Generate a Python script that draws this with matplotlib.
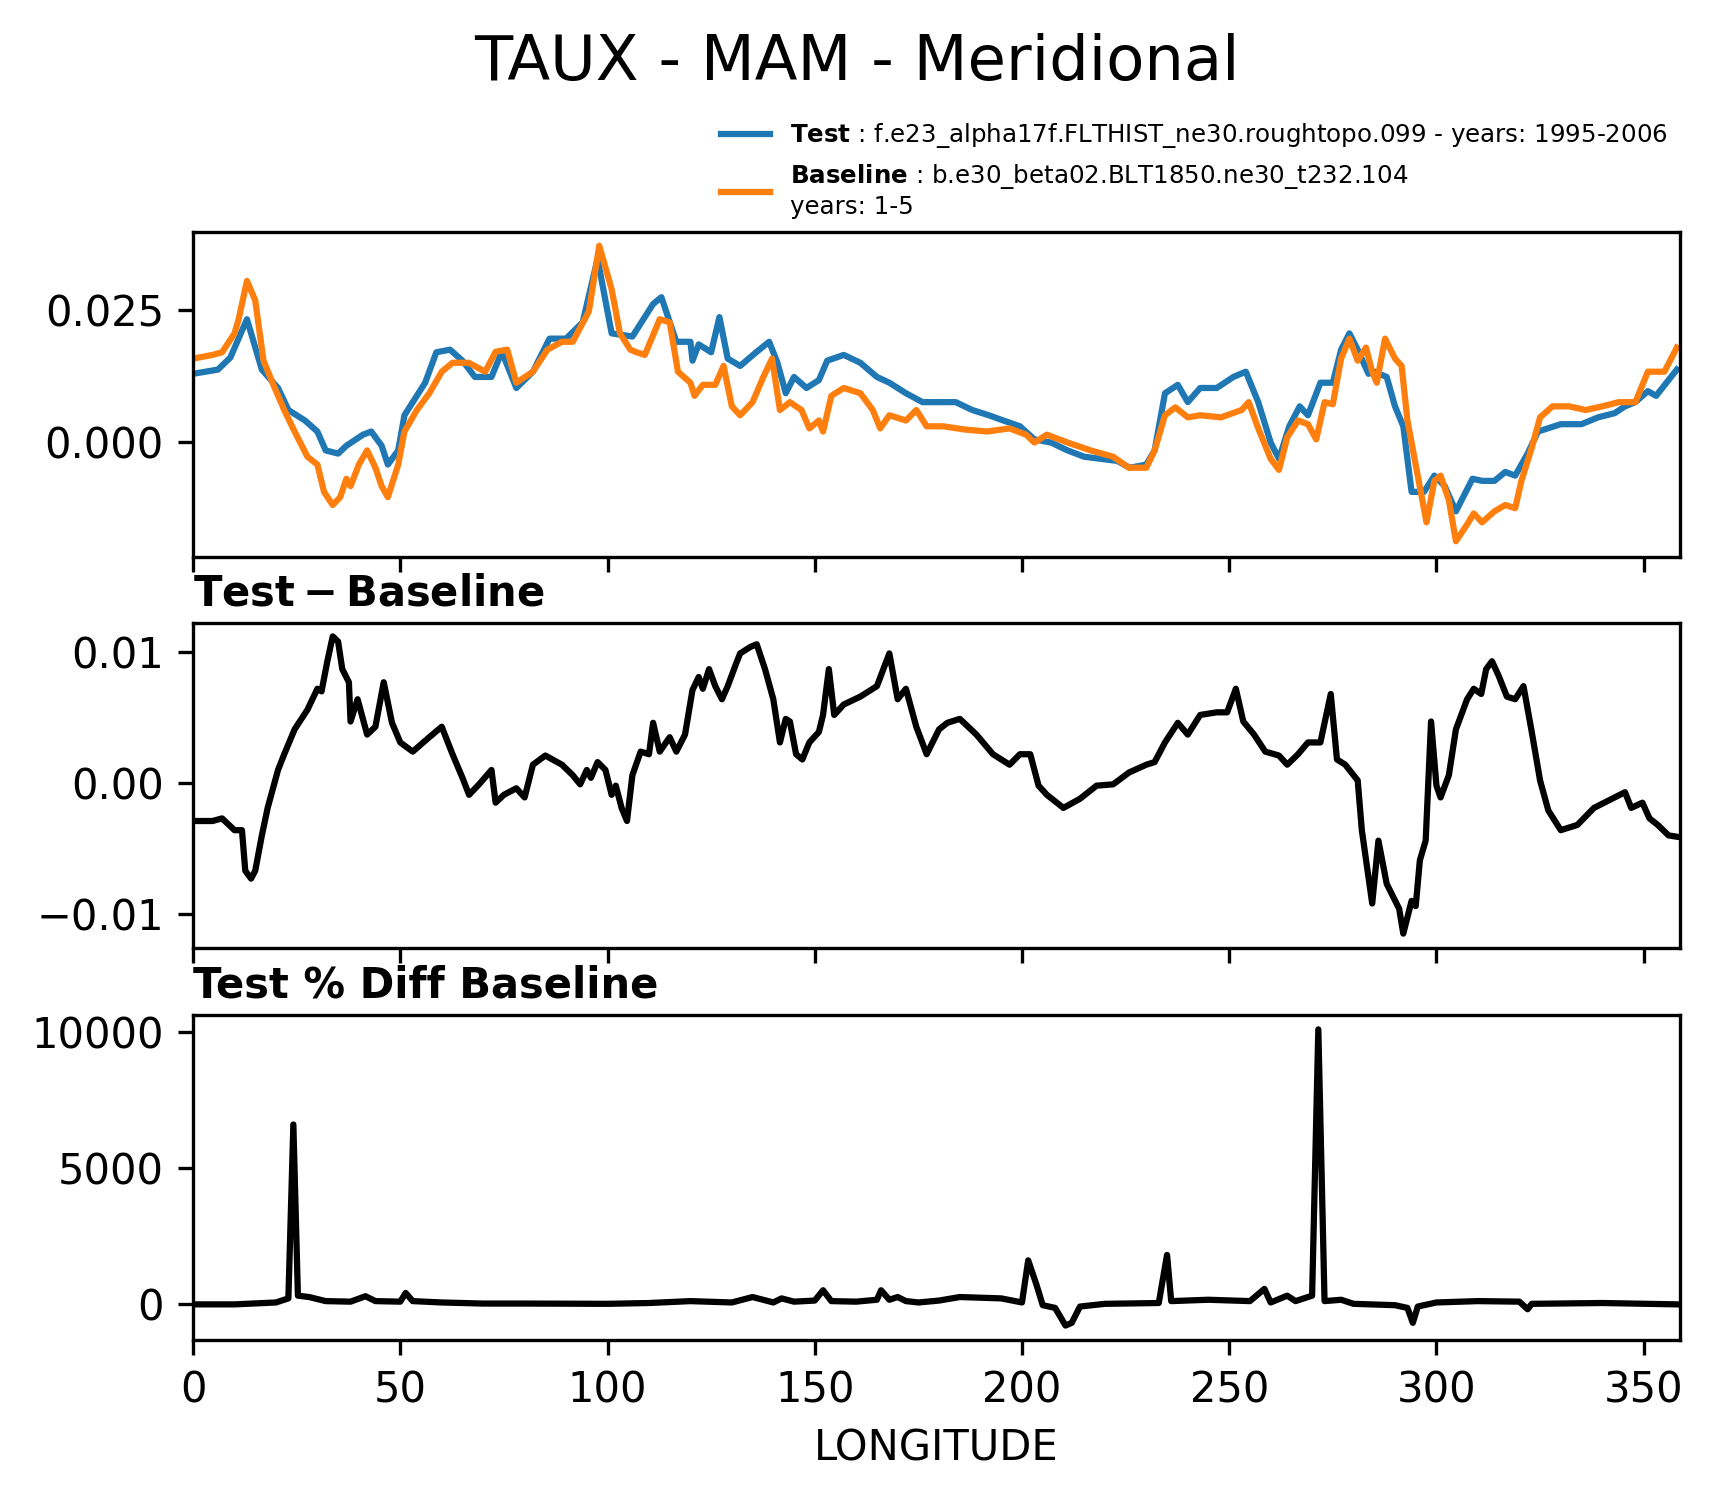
import numpy as np
import matplotlib
matplotlib.use("Agg")
import matplotlib.pyplot as plt

# Test (blue) zonal-ish profile
test_lon = [0, 6, 9, 13, 16.6, 20.5, 23, 27, 30, 32, 35, 37, 41, 43, 45.5, 47, 49.5, 51, 56, 58.7,
            62, 65, 68, 72, 74.5, 78, 82, 86, 90, 94, 97.6, 101, 106, 111, 113, 116.6, 120, 120.5,
            122, 125, 127, 129, 132, 136, 139, 141, 143, 145, 148, 151, 153, 157, 161, 165, 168,
            172, 176, 180, 184, 188, 192, 195.5, 199.5, 203, 207, 211, 215, 219, 223, 226, 230,
            232, 234.5, 237.6, 240, 243, 247, 251, 254, 257, 260, 262, 264.5, 267, 269, 272, 275,
            277, 279, 281, 283.6, 285, 288, 290, 292, 294, 297, 299.5, 302, 304.7, 308.7, 311,
            314, 316.6, 319, 322, 324.5, 330, 335, 339, 343, 345.5, 348, 351, 353, 358]
test_val = [0.0129, 0.0137, 0.016, 0.0233, 0.0137, 0.0102, 0.006, 0.004, 0.0019, -0.0017, -0.0023,
            -0.0008, 0.0013, 0.0019, -0.0008, -0.0044, -0.0017, 0.005, 0.0112, 0.017, 0.0175,
            0.0154, 0.0123, 0.0123, 0.0171, 0.0102, 0.0133, 0.0196, 0.0196, 0.0227, 0.0348,
            0.0206, 0.02, 0.0262, 0.0275, 0.019, 0.019, 0.0154, 0.0185, 0.017, 0.0237, 0.0158,
            0.0144, 0.0171, 0.019, 0.015, 0.0092, 0.0123, 0.0102, 0.0117, 0.0154, 0.0165, 0.015,
            0.0123, 0.0112, 0.0092, 0.0075, 0.0075, 0.0075, 0.006, 0.005, 0.004, 0.0029, 0.0004,
            -0.0002, -0.0017, -0.0029, -0.0033, -0.0037, -0.005, -0.0044, -0.0017, 0.0092, 0.0108,
            0.0075, 0.0102, 0.0102, 0.0123, 0.0133, 0.0075, -0.0002, -0.0033, 0.0029, 0.0067,
            0.005, 0.0112, 0.0112, 0.0175, 0.0206, 0.0175, 0.0129, 0.0133, 0.0123, 0.0067, 0.0029,
            -0.0096, -0.0096, -0.0065, -0.0085, -0.0133, -0.0071, -0.0075, -0.0075, -0.0058,
            -0.0065, -0.0023, 0.0019, 0.0033, 0.0033, 0.0046, 0.0054, 0.0067, 0.0075, 0.0096,
            0.0087, 0.0137]

# Baseline (orange)
base_lon = [0, 4.7, 7, 10, 11, 13, 15, 17, 19.7, 22, 24.5, 27.6, 30, 31.6, 33.7, 35.5, 37, 38, 40,
            42, 44, 45.5, 47, 49.5, 51, 54, 57, 60, 62.6, 66.5, 70.5, 73, 75.8, 78, 82, 85.5, 89,
            91.6, 95.5, 98, 101, 103, 105.5, 107, 109, 112.6, 115, 117, 120, 121, 123, 126, 128,
            130, 132, 135, 137.6, 139.7, 141.6, 144, 146.8, 148.7, 151, 152, 154, 157, 161, 164,
            165.8, 168, 172, 174.5, 177, 181, 186, 191.6, 197, 201, 203, 206, 211, 216.6, 222,
            225.8, 230, 232, 234.5, 237, 240, 243, 248, 253, 254.7, 257, 260, 262, 264, 266.6,
            269, 271, 273, 275, 277, 279, 281, 283, 284.5, 285.6, 287.6, 290, 291.6, 293, 295.5,
            297.6, 299.5, 301, 303, 304.7, 307.4, 309, 311, 314, 316.6, 319, 320.5, 323, 325,
            328, 332, 336, 340, 344, 348, 351, 355, 358]
base_val = [0.0158, 0.0165, 0.017, 0.0206, 0.0233, 0.0306, 0.0269, 0.0154, 0.0102, 0.006, 0.0019,
            -0.0029, -0.0044, -0.0096, -0.0121, -0.0106, -0.0071, -0.0085, -0.0044, -0.0017,
            -0.005, -0.0085, -0.0106, -0.0044, 0.0019, 0.006, 0.0092, 0.0133, 0.015, 0.015,
            0.0133, 0.0171, 0.0175, 0.0112, 0.0133, 0.0175, 0.019, 0.019, 0.0248, 0.0373, 0.029,
            0.0206, 0.0175, 0.017, 0.0165, 0.0233, 0.0227, 0.0133, 0.0112, 0.0087, 0.0108,
            0.0108, 0.0144, 0.0067, 0.005, 0.0075, 0.0123, 0.0158, 0.006, 0.0075, 0.006, 0.0025,
            0.004, 0.0019, 0.0087, 0.0102, 0.0092, 0.006, 0.0025, 0.005, 0.004, 0.006, 0.0029,
            0.0029, 0.0023, 0.0019, 0.0025, 0.0013, -0.0002, 0.0013, -0.0002, -0.0017, -0.0029,
            -0.005, -0.005, -0.0017, 0.005, 0.0065, 0.0046, 0.005, 0.0046, 0.006, 0.0075, 0.0025,
            -0.0033, -0.0054, 0.0008, 0.004, 0.0033, 0.0004, 0.0075, 0.0071, 0.0158, 0.0196,
            0.0154, 0.0179, 0.0133, 0.0112, 0.0196, 0.0158, 0.0144, 0.004, -0.0065, -0.0154,
            -0.0075, -0.0065, -0.0112, -0.019, -0.0158, -0.0137, -0.0154, -0.0133, -0.0121,
            -0.0127, -0.0075, -0.0012, 0.0046, 0.0067, 0.0067, 0.006, 0.0067, 0.0075, 0.0075,
            0.0133, 0.0133, 0.0179]

# Test - Baseline
diff_lon = [0, 4.7, 7, 10, 11.8, 12.6, 14, 15, 16.6, 18, 20.5, 22, 24.5, 27.6, 30, 31, 32.4, 33.7,
            35, 36, 37.6, 38, 39.7, 42, 44, 46, 48, 50, 53, 57, 60, 62.6, 65, 66.6, 69, 72, 73, 75,
            78, 80, 82, 85, 89, 91.6, 93.4, 95, 96, 97.6, 99.5, 101, 102, 103.4, 104.7, 106, 108,
            110, 111, 112.6, 115, 116.6, 118.7, 120.5, 122, 123, 124.5, 126, 127.6, 129, 131, 132,
            134.5, 136, 138, 140, 141.6, 143, 144, 145.5, 147, 148.7, 151, 152, 153.4, 154.7, 157,
            161, 165, 168, 170, 172, 174.5, 177, 180, 182, 185, 189, 193, 197, 199.5, 202, 204,
            206, 210, 214, 218, 222, 225.8, 230, 232, 234.5, 237.6, 240, 243, 247, 249.5, 251.6,
            253.4, 256, 258.7, 262, 264, 266.6, 269, 272, 274.5, 276, 278, 281, 282, 284.5, 286,
            288, 291, 292, 294, 295, 296, 297.4, 298.7, 300, 301, 303, 304.7, 307.4, 309, 310.8,
            312, 313.4, 315, 317, 319, 321, 323, 325, 327, 330, 334, 338, 340.5, 343, 345.5, 347,
            349.7, 351.4, 353.4, 356, 358]
diff_val = [-0.0029, -0.0029, -0.0027, -0.0036, -0.0036, -0.0067, -0.0073, -0.0067, -0.004, -0.0019,
            0.001, 0.0022, 0.0041, 0.0056, 0.0072, 0.007, 0.0093, 0.0112, 0.0108, 0.0087, 0.0077,
            0.0047, 0.0064, 0.0037, 0.0043, 0.0077, 0.0046, 0.0031, 0.0024, 0.0035, 0.0043,
            0.0022, 0.0004, -0.0009, -0.0001, 0.001, -0.0015, -0.0009, -0.0004, -0.0011, 0.0014,
            0.0021, 0.0014, 0.0006, -0.0001, 0.001, 0.0004, 0.0016, 0.001, -0.0009, -0.0002,
            -0.0019, -0.0029, 0.0006, 0.0024, 0.0022, 0.0046, 0.0024, 0.0035, 0.0024, 0.0037,
            0.0071, 0.0081, 0.0072, 0.0087, 0.0074, 0.0064, 0.0074, 0.0091, 0.0099, 0.0104,
            0.0106, 0.0087, 0.0064, 0.0031, 0.0049, 0.0047, 0.0022, 0.0018, 0.0031, 0.0039,
            0.0052, 0.0087, 0.0052, 0.006, 0.0066, 0.0074, 0.0099, 0.0064, 0.0072, 0.0043, 0.0022,
            0.0041, 0.0046, 0.0049, 0.0037, 0.0022, 0.0014, 0.0022, 0.0022, -0.0002, -0.0009,
            -0.0019, -0.0012, -0.0002, -0.0001, 0.0008, 0.0014, 0.0016, 0.0031, 0.0046, 0.0037,
            0.0052, 0.0054, 0.0054, 0.0072, 0.0047, 0.0037, 0.0024, 0.0021, 0.0014, 0.0022,
            0.0031, 0.0031, 0.0068, 0.0018, 0.0014, 0.0002, -0.0036, -0.0092, -0.0044, -0.0077,
            -0.0096, -0.0115, -0.009, -0.0094, -0.0059, -0.0044, 0.0047, -0.0002, -0.0011, 0.0006,
            0.0041, 0.0064, 0.0072, 0.0068, 0.0087, 0.0093, 0.0082, 0.0066, 0.0064, 0.0074,
            0.0039, 0.0002, -0.0021, -0.0036, -0.0032, -0.0019, -0.0015, -0.0011, -0.0007,
            -0.0019, -0.0015, -0.0027, -0.0032, -0.004, -0.0041]

# Test % Diff Baseline
pct_lon = [0, 10, 20, 23, 24.2, 25.3, 28, 32, 38, 41.6, 44, 50, 51.3, 53, 60, 70, 80, 100, 110, 120,
           130, 135, 140, 142, 145, 150, 152, 154, 160, 165, 166, 168, 170, 172, 175, 180, 185,
           195, 200, 201.5, 203.5, 205, 208, 210.5, 212, 214, 220, 233, 235, 236, 245, 255, 258.5,
           260, 264, 266, 270, 271.5, 273, 277, 280, 290, 293, 294.3, 295.5, 300, 310, 320, 322,
           323, 340, 358]
pct_val = [-20, -20, 50, 200, 6600, 300, 250, 100, 80, 280, 100, 80, 400, 100, 50, 10, 10, 0, 30, 100,
           50, 250, 50, 200, 80, 120, 500, 100, 80, 150, 500, 150, 250, 100, 50, 120, 250, 200, 50,
           1600, 700, -50, -150, -800, -700, -100, 0, 30, 1800, 100, 150, 100, 550, 50, 300, 100,
           300, 10100, 100, 150, 0, -50, -150, -700, -100, 50, 100, 80, -200, 0, 30, -20]

W, H = 0.868, 0.2175
LEFT = 0.1127

fig = plt.figure(figsize=(1713 / 300, 1496 / 300), dpi=300)
ax1 = fig.add_axes([LEFT, 0.6277, W, H])
ax2 = fig.add_axes([LEFT, 0.3663, W, H])
ax3 = fig.add_axes([LEFT, 0.1043, W, H])

lw = 1.5
ax1.plot(test_lon, test_val, color="#1f77b4", lw=lw,
         label=r"$\bf{Test}$ : f.e23_alpha17f.FLTHIST_ne30.roughtopo.099 - years: 1995-2006")
ax1.plot(base_lon, base_val, color="#ff7f0e", lw=lw,
         label=r"$\bf{Baseline}$ : b.e30_beta02.BLT1850.ne30_t232.104" + "\nyears: 1-5")
ax1.set_ylim(-0.022, 0.040)
ax1.set_yticks([0.0, 0.025])
ax1.set_yticklabels(["0.000", "0.025"])
ax1.legend(loc="lower right", bbox_to_anchor=(1.0, 1.0), frameon=False, fontsize=5.9,
           handlelength=2.0, borderaxespad=0.1)

ax2.plot(diff_lon, diff_val, color="black", lw=lw)
ax2.set_ylim(-0.0126, 0.01225)
ax2.set_yticks([-0.01, 0.0, 0.01])
ax2.set_yticklabels(["\u22120.01", "0.00", "0.01"])
ax2.set_title(r"$\bf{Test - Baseline}$", loc="left", fontsize=10, pad=4)

ax3.plot(pct_lon, pct_val, color="black", lw=lw)
ax3.set_ylim(-1330, 10645)
ax3.set_yticks([0, 5000, 10000])
ax3.set_title("Test % Diff Baseline", loc="left", fontsize=10, fontweight="bold", pad=4)
ax3.set_xlabel("LONGITUDE", fontsize=10)

for ax in (ax1, ax2, ax3):
    ax.set_xlim(0, 358.75)
    ax.set_xticks([0, 50, 100, 150, 200, 250, 300, 350])
    ax.tick_params(labelsize=10)
for ax in (ax1, ax2):
    ax.set_xticklabels([])

fig.suptitle("TAUX - MAM - Meridional", fontsize=15, y=0.978)
fig.savefig("out.png", dpi=300)
